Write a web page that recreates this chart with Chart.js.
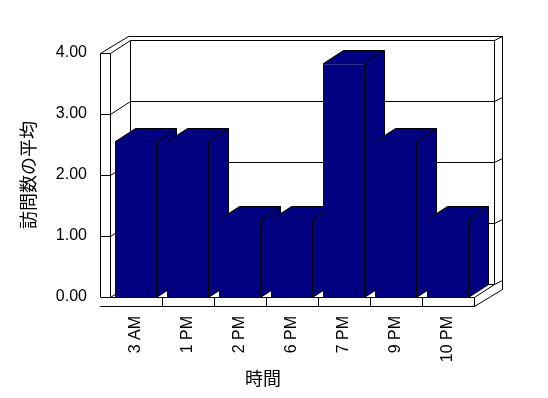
<!DOCTYPE html>
<html>
<head>
<meta charset="utf-8">
<script src="https://cdn.jsdelivr.net/npm/chart.js@4"></script>
<style>
  html, body { margin: 0; padding: 0; background: #fff; }
</style>
</head>
<body>
<canvas id="visitsChart" width="548" height="398"></canvas>
<script>
// chart data
const hours = ['3 AM', '1 PM', '2 PM', '6 PM', '7 PM', '9 PM', '10 PM'];
const avgVisits = [2.56, 2.56, 1.28, 1.28, 3.83, 2.56, 1.28];
const yMin = 0, yMax = 4, yStep = 1;

const NAVY = '#000080';
const DX = 20, DY = -13;   // depth of the 3d box
const TW = 10, FH = 9;     // left wall / floor thickness
const BX = 8, BY = -4;     // back wall thickness

function line(ctx, x1, y1, x2, y2) {
    ctx.beginPath();
    ctx.moveTo(x1 + 0.5, y1 + 0.5);
    ctx.lineTo(x2 + 0.5, y2 + 0.5);
    ctx.stroke();
}

function poly(ctx, pts, fill) {
    ctx.beginPath();
    pts.forEach((p, i) => i ? ctx.lineTo(p[0] + 0.5, p[1] + 0.5) : ctx.moveTo(p[0] + 0.5, p[1] + 0.5));
    ctx.closePath();
    ctx.fillStyle = fill;
    ctx.fill();
    ctx.stroke();
}

// draws the box, grid and the top/side faces of the bars
const box3d = {
    id: 'box3d',
    beforeDatasetsDraw(chart) {
        const {ctx, chartArea: a, scales: {x, y}} = chart;
        const L = Math.round(a.left), R = Math.round(a.right);
        const T = Math.round(a.top), B = Math.round(a.bottom);
        ctx.save();
        ctx.strokeStyle = '#000';
        ctx.lineWidth = 1;

        // walls outline
        line(ctx, L - TW, T, L - TW, B + FH);
        line(ctx, L, T, L, B);
        line(ctx, L - TW, T, L + DX - 2, T + DY + BY);
        line(ctx, L + DX - 2, T + DY + BY, R + DX + BX, T + DY + BY);
        line(ctx, R + DX + BX, T + DY + BY, R + DX + BX, B + FH + DY + BY);
        line(ctx, L + DX, T + DY, L + DX, B + DY);
        line(ctx, R + DX, T + DY, R + DX, B + DY);

        // grid lines
        for (let v = yMin; v <= yMax; v += yStep) {
            const py = Math.round(y.getPixelForValue(v));
            line(ctx, L - TW, py, L, py);
            line(ctx, L, py, L + DX, py + DY);
            line(ctx, L + DX, py + DY, R + DX, py + DY);
            line(ctx, R + DX, py + DY, R + DX + BX, py + DY + BY);
        }

        // floor
        ctx.fillStyle = '#fff';
        ctx.fillRect(L - TW, B, R - L + TW, FH);
        line(ctx, L - TW, B, R, B);
        line(ctx, L - TW, B + FH, R, B + FH);
        line(ctx, R, B, R, B + FH);
        line(ctx, R, B, R + DX, B + DY);
        line(ctx, R, B + FH, R + DX + BX, B + FH + DY + BY);
        for (let i = 0; i < hours.length - 1; i++) {
            const px = Math.round((x.getPixelForValue(i) + x.getPixelForValue(i + 1)) / 2);
            line(ctx, px, B, px, B + FH);
        }

        // bar sides and tops
        chart.getDatasetMeta(0).data.forEach(bar => {
            const x1 = Math.round(bar.x - bar.width / 2);
            const x2 = Math.round(bar.x + bar.width / 2) - 1;
            const top = Math.round(bar.y), base = Math.round(bar.base);
            poly(ctx, [[x2, top], [x2 + DX, top + DY], [x2 + DX, base + DY], [x2, base]], NAVY);
            poly(ctx, [[x1, top], [x1 + DX, top + DY], [x2 + DX, top + DY], [x2, top]], NAVY);
        });
        ctx.restore();
    },
    afterDraw(chart) {
        const {ctx} = chart;
        ctx.save();
        ctx.fillStyle = '#000';
        ctx.font = '18px "Noto Sans CJK JP", sans-serif';
        ctx.textAlign = 'center';
        ctx.textBaseline = 'middle';
        ctx.fillText('時間', 263, 378);
        ctx.restore();
    }
};

const ctx = document.getElementById('visitsChart').getContext('2d');
const visitsChart = new Chart(ctx, {
    type: 'bar',
    data: {
        labels: hours,
        datasets: [{
            label: '訪問数の平均',
            data: avgVisits,
            backgroundColor: NAVY,
            borderColor: '#000',
            borderWidth: 1,
            barPercentage: 0.81,
            categoryPercentage: 1
        }]
    },
    options: {
        responsive: false,
        animation: false,
        layout: {
            padding: {top: 53, right: 74, left: 0, bottom: 0}
        },
        plugins: {
            legend: {display: false},
            tooltip: {enabled: false}
        },
        scales: {
            x: {
                grid: {display: false, drawTicks: false},
                border: {display: false},
                ticks: {
                    color: '#000',
                    font: {family: '"Liberation Sans", Arial, sans-serif', size: 16},
                    minRotation: 90,
                    maxRotation: 90,
                    autoSkip: false,
                    padding: 19
                },
                afterFit(scale) { scale.height = 101; }
            },
            y: {
                min: yMin,
                max: yMax,
                grid: {display: false, drawTicks: false},
                border: {display: false},
                ticks: {
                    stepSize: yStep,
                    color: '#000',
                    font: {family: '"Liberation Sans", Arial, sans-serif', size: 16},
                    padding: 23,
                    callback: v => v.toFixed(2)
                },
                title: {
                    display: true,
                    text: '訪問数の平均',
                    color: '#000',
                    font: {family: '"Noto Sans CJK JP", sans-serif', size: 18},
                    padding: {top: 17, bottom: 0}
                },
                afterFit(scale) { scale.width = 110; }
            }
        }
    },
    plugins: [box3d]
});
</script>
</body>
</html>
